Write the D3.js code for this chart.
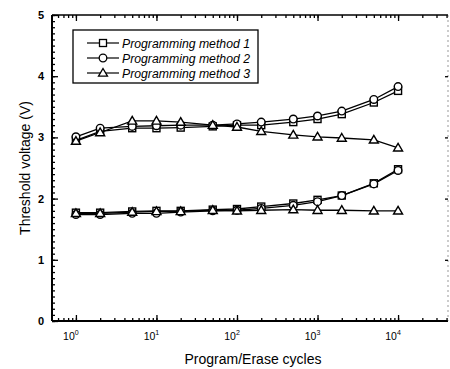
<!DOCTYPE html>
<html><head><meta charset="utf-8">
<script src="https://cdn.jsdelivr.net/npm/d3@7"></script>
<style>body{margin:0;background:#fff}svg{display:block}text{font-family:"Liberation Sans",Arial,sans-serif}</style>
</head><body><svg id="c" width="450" height="369"></svg>
<script>
const cycles = [1, 2, 5, 10, 20, 50, 100, 200, 500, 1000, 2000, 5000, 10000];
const m1Prog  = [2.95, 3.10, 3.15, 3.15, 3.16, 3.18, 3.20, 3.20, 3.25, 3.30, 3.38, 3.57, 3.76];
const m2Prog  = [3.01, 3.15, 3.18, 3.19, 3.20, 3.20, 3.22, 3.25, 3.30, 3.35, 3.43, 3.62, 3.83];
const m3Prog  = [2.94, 3.08, 3.27, 3.27, 3.25, 3.20, 3.17, 3.10, 3.04, 3.01, 2.99, 2.96, 2.83];
const m1Erase = [1.77, 1.77, 1.79, 1.80, 1.80, 1.82, 1.83, 1.87, 1.92, 1.98, 2.05, 2.25, 2.48];
const m2Erase = [1.74, 1.74, 1.76, 1.76, 1.78, 1.80, 1.81, 1.84, 1.89, 1.95, 2.05, 2.24, 2.46];
const m3Erase = [1.76, 1.76, 1.78, 1.79, 1.79, 1.81, 1.80, 1.81, 1.82, 1.81, 1.81, 1.80, 1.80];
const seriesNames = ["Programming method 1", "Programming method 2", "Programming method 3"];
const markers = ["square", "circle", "triangle"];
const yTicks = [0, 1, 2, 3, 4, 5];
const xTickExp = [0, 1, 2, 3, 4];

const svg = d3.select("#c");
const L = 52, R = 448, T = 15, B = 321;
const x = d3.scaleLog().domain([Math.pow(10, -0.297), Math.pow(10, 4.62)]).range([L, R]);
const y = d3.scaleLinear().domain([0, 5]).range([B, T]);

// frame
svg.append("line").attr("x1", L).attr("x2", R).attr("y1", B).attr("y2", B).attr("stroke", "#000").attr("stroke-width", 2);
svg.append("line").attr("x1", L).attr("x2", L).attr("y1", T).attr("y2", B).attr("stroke", "#000").attr("stroke-width", 2);
svg.append("line").attr("x1", L).attr("x2", R).attr("y1", T).attr("y2", T).attr("stroke", "#000").attr("stroke-width", 1.6);
svg.append("line").attr("x1", R).attr("x2", R).attr("y1", T).attr("y2", B).attr("stroke", "#999").attr("stroke-width", 1).attr("stroke-dasharray", "2,3");

// axes with inward ticks
const minorX = [];
for (let e = -1; e <= 4; e++) for (let k = 1; k <= 9; k++) { const v = k * Math.pow(10, e); if (v >= x.domain()[0] && v <= x.domain()[1]) minorX.push(v); }
const majorX = xTickExp.map(e => Math.pow(10, e));
const gxB = svg.append("g").attr("transform", `translate(0,${B})`)
  .call(d3.axisBottom(x).tickValues(minorX).tickSize(-3).tickFormat(""));
const gxB2 = svg.append("g").attr("transform", `translate(0,${B})`)
  .call(d3.axisBottom(x).tickValues(majorX).tickSize(-6).tickFormat(""));
const gxT = svg.append("g").attr("transform", `translate(0,${T})`)
  .call(d3.axisTop(x).tickValues(minorX).tickSize(-3).tickFormat(""));
const gxT2 = svg.append("g").attr("transform", `translate(0,${T})`)
  .call(d3.axisTop(x).tickValues(majorX).tickSize(-6).tickFormat(""));
const minorY = d3.range(0, 5.001, 0.1);
const gyL = svg.append("g").attr("transform", `translate(${L},0)`)
  .call(d3.axisLeft(y).tickValues(minorY).tickSize(-3).tickFormat(""));
const gyL2 = svg.append("g").attr("transform", `translate(${L},0)`)
  .call(d3.axisLeft(y).tickValues(yTicks).tickSize(-6).tickFormat(""));
const gyR = svg.append("g").attr("transform", `translate(${R},0)`)
  .call(d3.axisRight(y).tickValues(yTicks.slice(1, 5)).tickSize(-3).tickFormat(""));
[gxB, gxB2, gxT, gxT2, gyL, gyL2, gyR].forEach(g => {
  g.select(".domain").remove();
  g.selectAll(".tick line").attr("stroke", "#000").attr("stroke-width", 1.3);
});

// tick labels
yTicks.forEach(v => {
  svg.append("text").attr("x", 44).attr("y", y(v) + 4).attr("text-anchor", "end")
    .attr("font-size", 11).attr("font-weight", "bold").text(v);
});
xTickExp.forEach(e => {
  const t = svg.append("text").attr("x", x(Math.pow(10, e)) - 5).attr("y", 340)
    .attr("text-anchor", "middle").attr("font-size", 10.5);
  t.append("tspan").text("10");
  t.append("tspan").attr("dy", -5).attr("font-size", 7).text(e);
});

// axis titles
svg.append("text").attr("x", 253).attr("y", 364).attr("text-anchor", "middle")
  .attr("font-size", 14).text("Program/Erase cycles");
svg.append("text").attr("transform", `translate(30,168) rotate(-90)`).attr("text-anchor", "middle")
  .attr("font-size", 14).text("Threshold voltage (V)");

// markers
function drawMarker(g, type, cx, cy) {
  if (type === "square") g.append("rect").attr("x", cx - 3.5).attr("y", cy - 3.5).attr("width", 7).attr("height", 7);
  else if (type === "circle") g.append("circle").attr("cx", cx).attr("cy", cy).attr("r", 3.8);
  else g.append("path").attr("d", `M${cx},${cy - 4.5}L${cx + 4.5},${cy + 3.2}L${cx - 4.5},${cy + 3.2}Z`);
}
const line = d3.line().x(d => x(d[0])).y(d => y(d[1]));
const allSeries = [
  [m1Prog, 0], [m2Prog, 1], [m3Prog, 2],
  [m1Erase, 0], [m2Erase, 1], [m3Erase, 2]
];
allSeries.forEach(([vals]) => {
  svg.append("path").datum(cycles.map((c, i) => [c, vals[i]])).attr("d", line)
    .attr("fill", "none").attr("stroke", "#000").attr("stroke-width", 1.3);
});
allSeries.forEach(([vals, k]) => {
  const g = svg.append("g").attr("fill", "#fff").attr("stroke", "#000").attr("stroke-width", 1.4);
  cycles.forEach((c, i) => drawMarker(g, markers[k], x(c), y(vals[i])));
});

// legend
const lg = svg.append("g");
lg.append("rect").attr("x", 73).attr("y", 30).attr("width", 185).attr("height", 53)
  .attr("fill", "#fff").attr("stroke", "#000").attr("stroke-width", 1.3);
seriesNames.forEach((n, k) => {
  const ly = 43 + k * 15;
  lg.append("line").attr("x1", 87).attr("x2", 119).attr("y1", ly).attr("y2", ly).attr("stroke", "#000").attr("stroke-width", 1.2);
  const g = lg.append("g").attr("fill", "#fff").attr("stroke", "#000").attr("stroke-width", 1.3);
  drawMarker(g, markers[k], 103, ly);
  lg.append("text").attr("x", 122).attr("y", ly + 4.5).attr("font-size", 12.5).attr("font-style", "italic")
    .attr("textLength", 128).attr("lengthAdjust", "spacingAndGlyphs").text(n);
});
</script></body></html>
